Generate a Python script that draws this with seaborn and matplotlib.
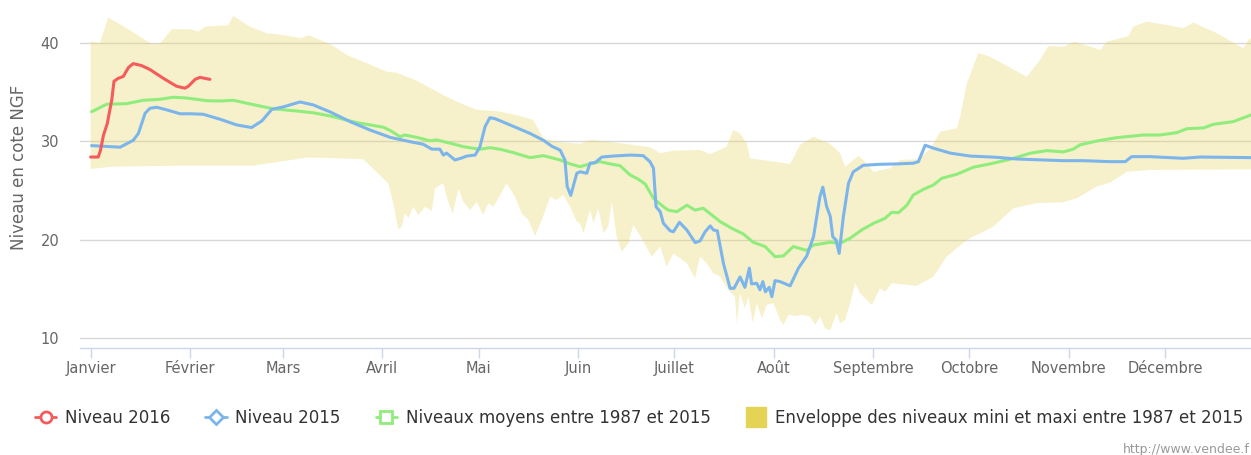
import numpy as np
import pandas as pd
import matplotlib
matplotlib.use("Agg")
import matplotlib.pyplot as plt
from matplotlib.lines import Line2D
import seaborn as sns

# x values are day-of-year (0 = 1er janvier), y values in m NGF
MONTHS = ["Janvier", "Février", "Mars", "Avril", "Mai", "Juin", "Juillet",
          "Août", "Septembre", "Octobre", "Novembre", "Décembre"]

days_2016 = [0, 2.4, 3.1, 4.0, 5.2, 6.6, 7.3, 8.6, 10.2, 11.8, 13.3, 15.9,
             18.5, 22.7, 26.8, 29.4, 30.5, 32.6, 34.1, 37.2]
niveau_2016 = [28.4, 28.4, 29.1, 30.6, 31.8, 34.2, 36.1, 36.4, 36.6, 37.5, 37.9,
               37.7, 37.3, 36.4, 35.6, 35.4, 35.6, 36.3, 36.5, 36.3]

days_2015 = [0.3, 9.2, 13.3, 14.9, 17.0, 18.5, 20.6, 23.7, 27.9, 31.0, 35.1, 40.4,
             45.6, 50.2, 53.4, 56.5, 60.1, 65.3, 69.4, 74.6, 80.9, 87.1, 93.4,
             99.6, 103.7, 106.4, 108.9, 110.0, 111.0, 113.6, 115.7, 117.3, 119.9,
             121.4, 123.0, 124.5, 126.1, 130.8, 137.0, 141.2, 143.8, 146.4, 147.9,
             148.6, 149.7, 151.6, 152.6, 154.7, 155.7, 157.3, 159.4, 163.0, 168.2,
             172.3, 174.4, 175.5, 176.3, 177.6, 178.6, 180.7, 181.7, 183.6, 185.9,
             188.5, 190.0, 191.6, 193.2, 194.2, 195.4, 197.3, 199.4, 200.6, 202.5,
             204.0, 205.4, 206.1, 207.7, 208.7, 209.6, 210.4, 211.6, 212.4, 213.4,
             215.0, 218.1, 220.7, 223.3, 225.4, 227.4, 228.3, 229.5, 230.6, 231.4,
             232.4, 233.4, 234.7, 236.3, 237.8, 240.9, 246.1, 251.4, 256.5, 258.1,
             260.2, 262.8, 268.0, 274.2, 282.5, 288.8, 297.1, 303.3, 309.5, 317.9,
             322.6, 324.6, 330.3, 340.7, 345.9, 361.9]
niveau_2015 = [29.56, 29.4, 30.1, 30.8, 32.85, 33.36, 33.46, 33.2, 32.8, 32.8, 32.75,
               32.24, 31.66, 31.4, 32.07, 33.25, 33.5, 34.0, 33.7, 33.0, 32.0, 31.15,
               30.4, 29.96, 29.7, 29.2, 29.2, 28.6, 28.8, 28.1, 28.3, 28.5, 28.6,
               29.45, 31.5, 32.4, 32.3, 31.66, 30.8, 30.1, 29.5, 29.1, 28.1, 25.4,
               24.5, 26.75, 26.9, 26.75, 27.77, 27.83, 28.4, 28.5, 28.6, 28.54, 27.93,
               27.26, 23.35, 22.84, 21.66, 20.9, 20.8, 21.76, 20.98, 19.7, 19.86, 20.8,
               21.4, 20.98, 20.9, 17.6, 15.05, 15.05, 16.2, 15.15, 17.1, 15.5, 15.56,
               14.9, 15.73, 14.7, 15.15, 14.2, 15.83, 15.73, 15.3, 17.1, 18.34, 20.3,
               24.37, 25.33, 23.35, 22.4, 20.3, 19.97, 18.6, 22.33, 25.73, 26.9, 27.56,
               27.66, 27.7, 27.77, 27.93, 29.6, 29.3, 28.8, 28.5, 28.37, 28.2, 28.1,
               28.03, 28.03, 27.93, 27.93, 28.44, 28.44, 28.27, 28.4, 28.34]

days_moy = [0.3, 5.0, 11.3, 16.4, 21.6, 25.8, 30.0, 36.2, 40.3, 44.5, 50.7, 57.0,
            64.3, 69.4, 74.6, 83.0, 91.3, 93.4, 96.5, 98.0, 101.7, 105.8, 107.9,
            113.1, 116.2, 121.4, 124.5, 127.7, 131.8, 137.0, 141.2, 146.4, 149.5,
            152.6, 155.7, 158.8, 162.0, 165.1, 168.2, 170.8, 172.9, 175.5, 178.6,
            180.1, 182.8, 185.9, 188.5, 191.0, 196.3, 199.9, 203.5, 206.6, 210.3,
            213.4, 216.0, 219.1, 223.3, 225.4, 227.4, 230.6, 233.7, 236.8, 240.4,
            244.1, 247.7, 249.8, 251.9, 254.5, 256.5, 259.7, 262.8, 265.4, 270.1,
            275.2, 280.4, 286.7, 292.9, 298.1, 303.3, 306.4, 308.4, 313.7, 319.9,
            328.2, 333.4, 338.7, 341.8, 347.0, 350.1, 356.3, 361.8]
niveau_moy = [33.0, 33.77, 33.83, 34.17, 34.27, 34.48, 34.4, 34.13, 34.1, 34.17,
              33.73, 33.3, 33.08, 32.9, 32.58, 31.9, 31.43, 31.1, 30.47, 30.64, 30.4,
              30.06, 30.14, 29.73, 29.45, 29.19, 29.35, 29.19, 28.85, 28.34, 28.54,
              28.1, 27.7, 27.42, 27.7, 27.93, 27.7, 27.52, 26.58, 26.14, 25.66, 24.2,
              23.35, 23.0, 22.84, 23.5, 23.0, 23.2, 21.83, 21.15, 20.58, 19.73, 19.3,
              18.27, 18.34, 19.3, 18.9, 19.46, 19.56, 19.73, 19.63, 20.14, 20.98,
              21.66, 22.17, 22.78, 22.74, 23.5, 24.54, 25.12, 25.56, 26.24, 26.65,
              27.36, 27.7, 28.17, 28.78, 29.05, 28.92, 29.2, 29.63, 30.03, 30.37,
              30.64, 30.64, 30.88, 31.28, 31.36, 31.73, 32.0, 32.68]

days_max = [0, 2.9, 5.5, 12.3, 18.5, 21.6, 25.3, 31.0, 33.6, 35.7, 42.9, 44.5,
            49.7, 54.9, 60.1, 65.8, 67.9, 74.6, 79.9, 85.0, 92.3, 95.4, 101.7,
            108.9, 114.2, 120.4, 126.6, 132.9, 138.0, 141.2, 145.3, 152.6, 155.7,
            163.0, 174.4, 177.6, 181.7, 190.0, 193.2, 198.3, 200.4, 202.5, 204.6,
            205.6, 218.1, 221.2, 225.4, 230.6, 233.7, 235.3, 237.8, 239.4, 240.9,
            244.1, 249.3, 252.4, 257.6, 261.7, 264.9, 270.1, 271.1, 273.2, 276.8,
            280.4, 291.9, 296.0, 298.6, 303.3, 306.8, 314.8, 316.8, 323.6, 325.1,
            329.3, 335.5, 340.7, 343.8, 351.1, 359.4, 361.0, 361.8]
niveau_max = [40.2, 39.97, 42.6, 41.3, 40.0, 39.9, 41.4, 41.4, 41.15, 41.66, 41.8,
              42.75, 41.66, 41.0, 40.8, 40.48, 40.8, 39.9, 38.78, 38.1, 37.08, 36.98,
              36.17, 34.88, 34.03, 33.2, 33.08, 32.67, 32.17, 30.3, 29.96, 29.75,
              30.14, 29.9, 29.4, 28.78, 29.05, 29.12, 28.7, 29.45, 31.15, 30.8, 29.8,
              28.27, 27.7, 29.63, 30.47, 29.75, 28.78, 27.42, 28.1, 28.5, 28.1, 26.9,
              27.26, 28.1, 28.17, 29.19, 30.98, 31.33, 32.5, 35.9, 39.0, 38.6, 36.57,
              38.27, 39.7, 39.62, 40.13, 39.3, 40.13, 40.7, 41.66, 42.17, 41.83, 41.5,
              42.07, 41.0, 39.46, 40.3, 40.48]

days_min = [0, 7.1, 27.9, 50.7, 59.1, 67.4, 74.6, 85.0, 92.8, 94.4, 95.9, 97.0,
            98.0, 99.1, 100.6, 102.2, 104.3, 106.4, 107.4, 109.0, 110.0, 111.0,
            112.9, 114.7, 116.2, 118.3, 120.4, 122.4, 124.0, 125.6, 127.7, 129.7,
            132.3, 134.4, 136.5, 138.6, 140.7, 143.3, 145.3, 147.4, 149.5, 151.6,
            152.6, 153.7, 155.7, 156.8, 158.3, 159.9, 161.4, 162.5, 164.0, 165.6,
            167.7, 169.2, 171.8, 175.0, 177.6, 179.6, 181.7, 183.8, 185.9, 188.5,
            190.0, 192.1, 194.2, 196.3, 198.8, 200.9, 201.5, 202.5, 204.0, 205.1,
            206.5, 207.7, 209.3, 210.8, 212.9, 215.0, 216.0, 217.6, 219.6, 221.7,
            224.3, 225.9, 227.4, 229.0, 230.6, 232.6, 233.7, 235.3, 236.8, 238.4,
            239.9, 243.6, 246.1, 247.7, 249.8, 257.6, 262.8, 266.9, 273.2, 281.5,
            287.7, 295.0, 303.3, 307.5, 313.7, 317.9, 323.1, 330.3, 361.8]
niveau_min = [27.19, 27.42, 27.52, 27.52, 27.93, 28.34, 28.3, 28.17, 25.73, 23.7,
              21.05, 21.32, 22.68, 22.17, 23.35, 22.5, 23.35, 22.9, 25.2, 25.56,
              25.73, 24.37, 22.6, 25.2, 23.86, 23.0, 23.86, 22.5, 23.7, 23.35, 24.54,
              25.73, 24.37, 22.68, 22.0, 20.37, 22.0, 24.37, 24.03, 24.54, 23.35,
              21.83, 21.66, 20.64, 23.0, 21.66, 23.18, 20.64, 21.32, 23.86, 20.3,
              18.78, 19.63, 21.5, 20.14, 18.27, 19.3, 17.25, 18.6, 18.1, 17.6, 16.07,
              18.27, 17.6, 16.58, 16.24, 14.88, 14.2, 11.5, 14.54, 13.02, 14.2, 11.5,
              13.53, 12.0, 13.36, 13.53, 11.83, 11.32, 12.34, 12.24, 12.34, 12.17,
              11.32, 12.17, 10.98, 10.77, 12.5, 11.5, 11.83, 13.53, 15.56, 14.54,
              13.36, 15.05, 14.7, 15.56, 15.3, 16.24, 18.27, 19.97, 21.32, 23.18,
              23.7, 23.8, 24.2, 25.4, 25.8, 26.9, 27.08, 27.15]

RED = "#f45b5b"
BLUE = "#7cb5ec"
GREEN = "#90ed7d"
YELLOW = "#e4d354"

sns.set_style("white")
plt.rcParams["font.family"] = ["DejaVu Sans"]

fig = plt.figure(figsize=(12.51, 4.55), dpi=100)
ax = fig.add_axes([80 / 1251, 107 / 455, 1171 / 1251, 343 / 455])

# envelope min / max as one closed polygon
env_x = np.r_[days_max, days_min[::-1]]
env_y = np.r_[niveau_max, niveau_min[::-1]]
ax.fill(env_x, env_y, color=YELLOW, alpha=0.3, lw=0, zorder=1)

line_kw = dict(ax=ax, linewidth=2.2, estimator=None, sort=False, legend=False)
sns.lineplot(x=days_moy, y=niveau_moy, color=GREEN, zorder=2, **line_kw)
sns.lineplot(x=days_2015, y=niveau_2015, color=BLUE, zorder=3, **line_kw)
sns.lineplot(x=days_2016, y=niveau_2016, color=RED, zorder=4, **line_kw)

ax.set_xlim(-3.3, 361.8)
ax.set_ylim(8.98, 43.86)

month_starts = pd.date_range("2016-01-01", periods=12, freq="MS").dayofyear - 1
ax.set_xticks(month_starts)
ax.set_xticklabels(MONTHS)
ax.set_yticks([10, 20, 30, 40])

ax.set_axisbelow(True)
ax.grid(axis="y", color="#d8d8d8", linewidth=1)
ax.grid(axis="x", visible=False)
for side in ["top", "right", "left"]:
    ax.spines[side].set_visible(False)
ax.spines["bottom"].set_color("#ccd6eb")
ax.spines["bottom"].set_linewidth(1)

ax.tick_params(axis="x", length=7.2, width=1, color="#ccd6eb", pad=2,
               labelsize=10.5, labelcolor="#666666", bottom=True)
ax.tick_params(axis="y", length=0, pad=15, labelsize=10.5, labelcolor="#666666")

ax.set_xlabel("")
ax.set_ylabel("Niveau en cote NGF", fontsize=12, color="#666666")
ax.yaxis.set_label_coords(-0.0444, 0.528)

handles = [
    Line2D([], [], color=RED, lw=2, marker="o", ms=8, mfc="white", mec=RED, mew=2),
    Line2D([], [], color=BLUE, lw=2, marker="D", ms=7, mfc="white", mec=BLUE, mew=2),
    Line2D([], [], color=GREEN, lw=2, marker="s", ms=8, mfc="white", mec=GREEN, mew=2),
    Line2D([], [], ls="none", marker="s", ms=14, mfc=YELLOW, mec=YELLOW),
]
labels = ["Niveau 2016", "Niveau 2015", "Niveaux moyens entre 1987 et 2015",
          "Enveloppe des niveaux mini et maxi entre 1987 et 2015"]
fig.legend(handles, labels, loc="center", bbox_to_anchor=(0.511, 0.081), ncol=4,
           frameon=False, fontsize=12, handlelength=1.3, handletextpad=0.5,
           columnspacing=2.1, labelcolor="#333333")

# source credit, cut by the right edge in the original export
fig.text(1250 / 1251, 6 / 455, "http://www.vendee.f", fontsize=9,
         color="#999999", ha="right", va="center")

fig.savefig("out.png", dpi=100)
